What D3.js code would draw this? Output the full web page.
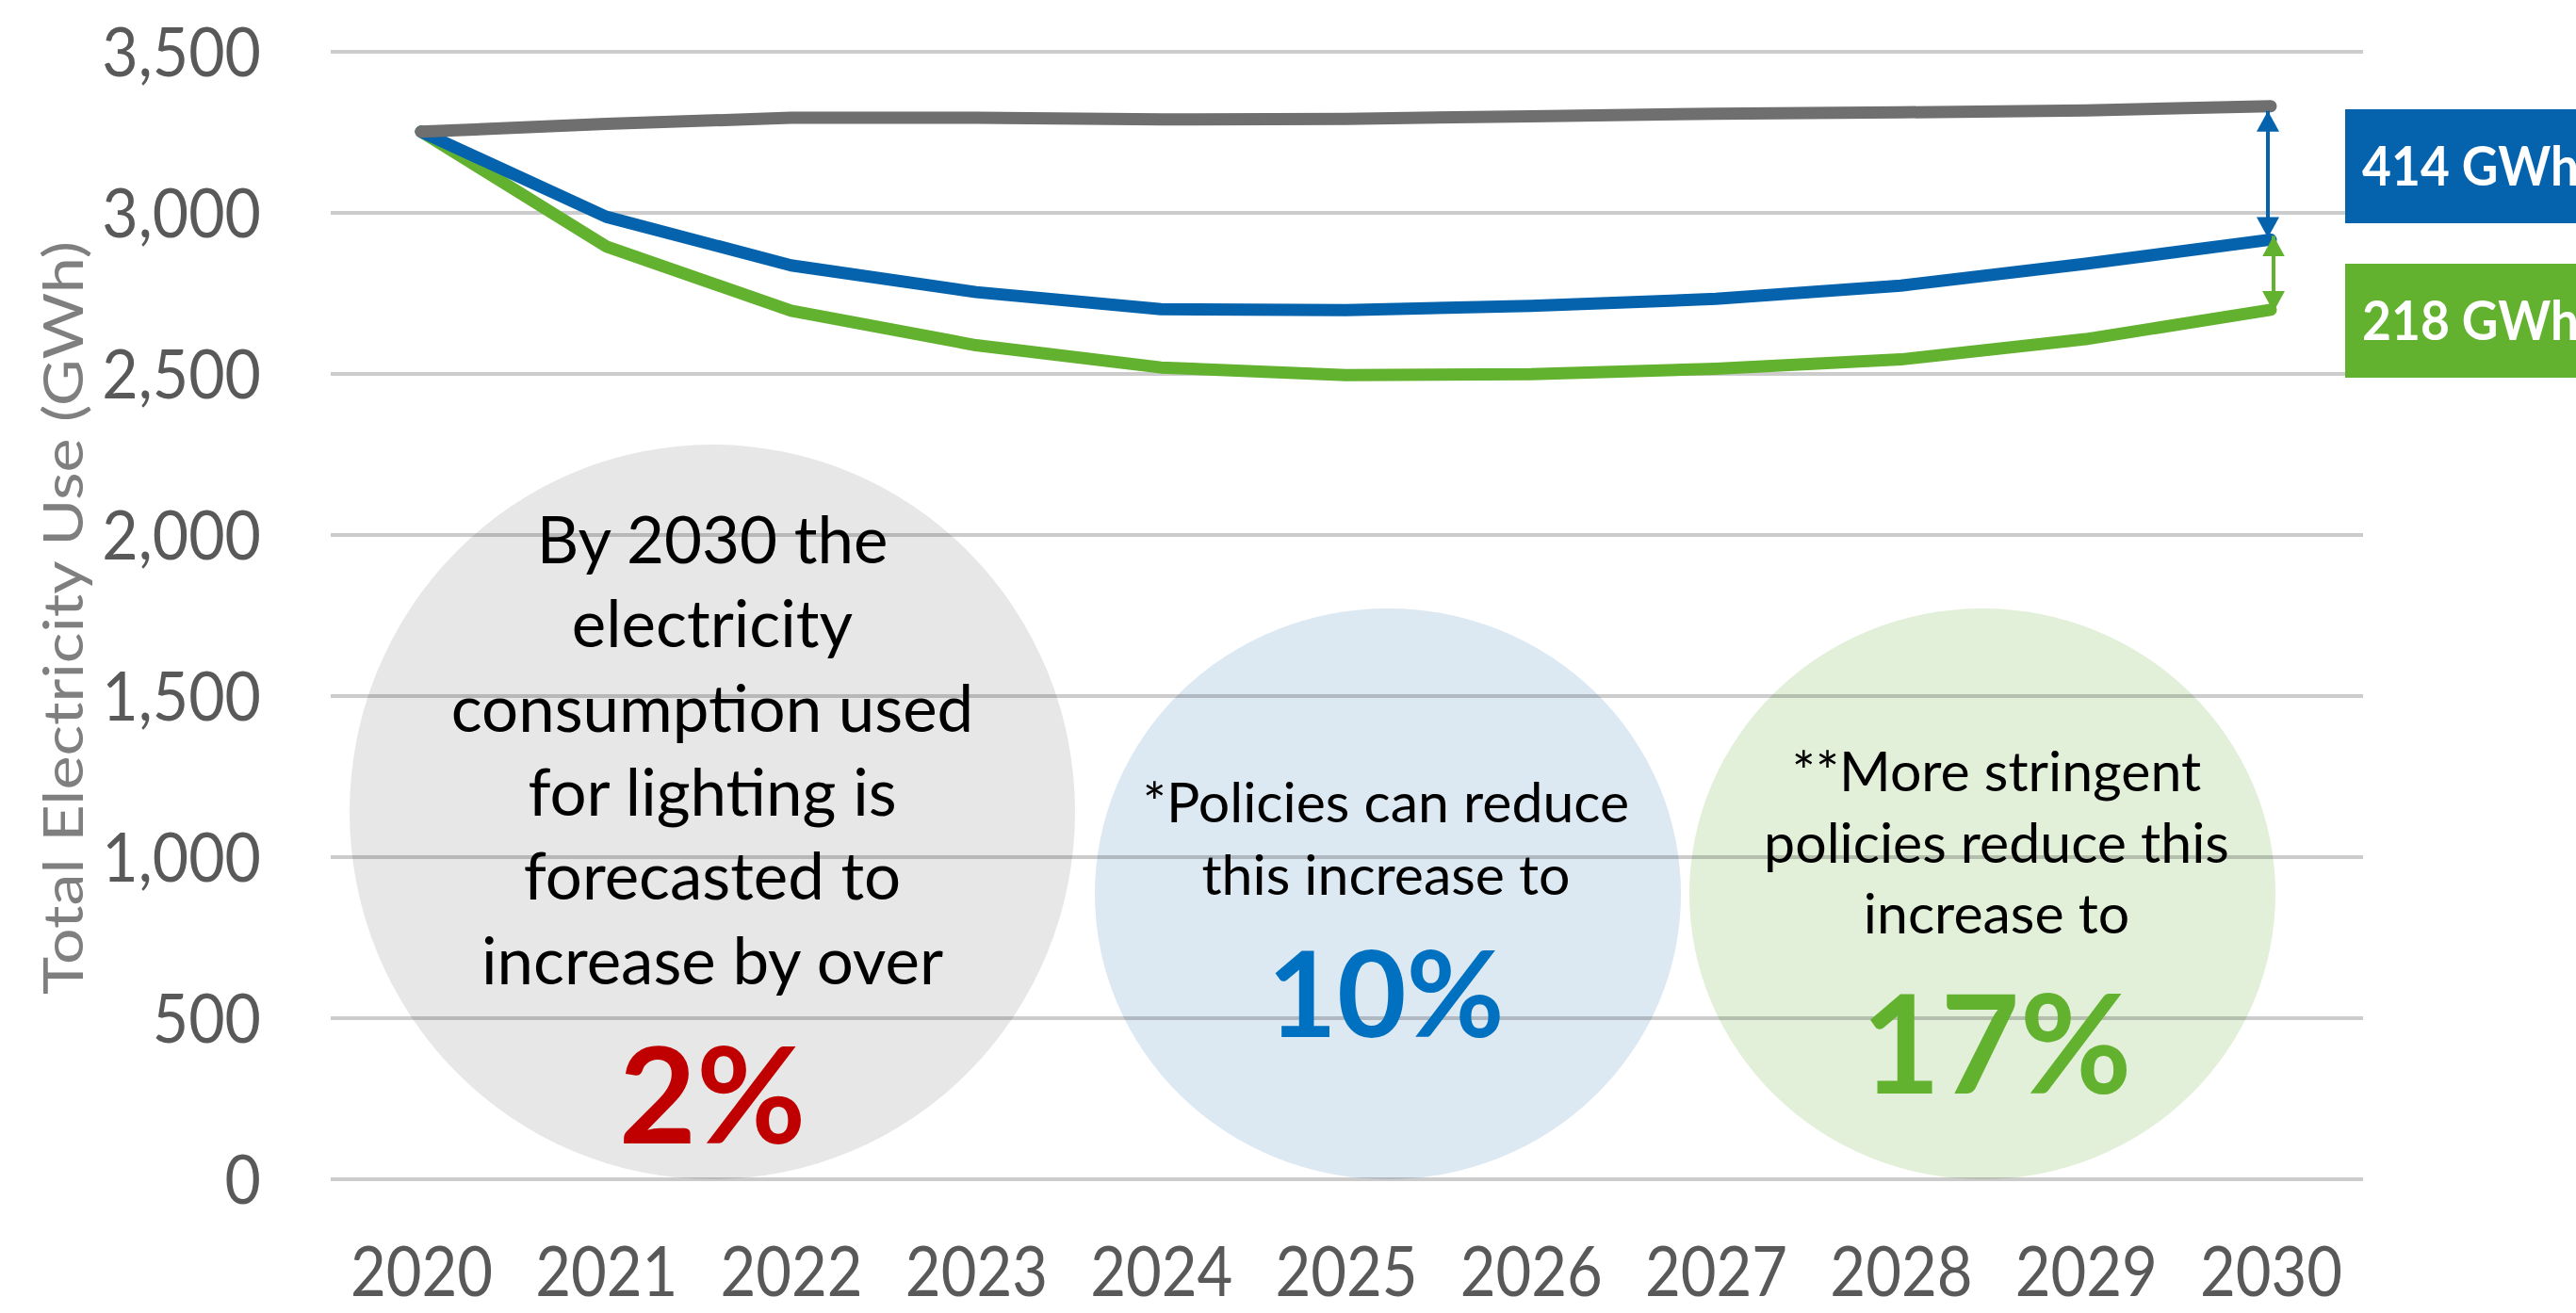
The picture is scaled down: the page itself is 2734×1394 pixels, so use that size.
<!DOCTYPE html>
<html><head><meta charset="utf-8">
<script src="https://cdn.jsdelivr.net/npm/d3@7"></script>
<style>html,body{margin:0;padding:0;background:#fff;overflow:hidden}svg{display:block}</style>
</head><body>
<svg id="chart" width="2734" height="1394"></svg>
<script>
// ---------- data ----------
const years = [2020, 2021, 2022, 2023, 2024, 2025, 2026, 2027, 2028, 2029, 2030];
const baselineUse  = [3252, 3276, 3295, 3295, 3290, 3292, 3300, 3308, 3312, 3318, 3331];
const policyUse    = [3252, 2988, 2837, 2754, 2701, 2698, 2711, 2733, 2774, 2842, 2917];
const stringentUse = [3252, 2896, 2696, 2589, 2520, 2496, 2499, 2516, 2545, 2608, 2699];
const yTickValues = [0, 500, 1000, 1500, 2000, 2500, 3000, 3500];
const yAxisTitle = "Total Electricity Use (GWh)";
const gapLabels = ["414 GWh", "218 GWh"];
const bubbleLines = [
  ["By 2030 the", "electricity", "consumption used", "for lighting is", "forecasted to", "increase by over"],
  ["*Policies can reduce", "this increase to"],
  ["**More stringent", "policies reduce this", "increase to"]
];
const bubbleFigures = ["2%", "10%", "17%"];

// ---------- setup ----------
const FONT = "Lato, 'Open Sans', sans-serif";
const svg = d3.select("#chart");
svg.append("rect").attr("width", 2734).attr("height", 1394).attr("fill", "#fff");

const x = d3.scalePoint().domain(years).range([447, 2410]);
const y = d3.scaleLinear().domain([0, 3500]).range([1252, 55]);

const GRAY = "#6f6f6f", BLUE = "#0563ad", GREEN = "#63b22f";

// ---------- bubbles (background) ----------
const bubbleStyle = [
  {cx: 756, cy: 862, rx: 385, ry: 390, fill: "#e7e7e7", tx: 756, base: 598, lh: 89.3, fs: 69, figBase: 1214, figFs: 142, figColor: "#c00000"},
  {cx: 1473, cy: 949, rx: 311, ry: 303, fill: "#dce8f2", tx: 1471, base: 873, lh: 76.7, fs: 59, figBase: 1101, figFs: 127, figColor: "#0070c0"},
  {cx: 2104, cy: 949, rx: 311, ry: 303, fill: "#e2efd9", tx: 2119, base: 840, lh: 75.6, fs: 59, figBase: 1161, figFs: 145, figColor: "#63b22f"}
];
const gB = svg.append("g");
gB.selectAll("ellipse").data(bubbleStyle).join("ellipse")
  .attr("cx", d => d.cx).attr("cy", d => d.cy).attr("rx", d => d.rx).attr("ry", d => d.ry)
  .attr("fill", d => d.fill);

// ---------- gridlines ----------
svg.append("g").selectAll("line").data(yTickValues).join("line")
  .attr("x1", 351).attr("x2", 2508)
  .attr("y1", d => y(d)).attr("y2", d => y(d))
  .attr("stroke", "rgba(0,0,0,0.2)").attr("stroke-width", 4);

// ---------- bubble texts ----------
bubbleStyle.forEach((s, i) => {
  const g = svg.append("g").attr("font-family", FONT).attr("text-anchor", "middle");
  g.selectAll("text.l").data(bubbleLines[i]).join("text").attr("class", "l")
    .attr("x", s.tx).attr("y", (d, j) => s.base + j * s.lh)
    .attr("font-size", s.fs).attr("fill", "#000").text(d => d);
  g.append("text").attr("x", s.tx).attr("y", s.figBase)
    .attr("font-size", s.figFs).attr("font-weight", 700).attr("fill", s.figColor)
    .text(bubbleFigures[i]);
});

// ---------- axes ----------
const yAxis = svg.append("g").attr("transform", "translate(277,0)")
  .call(d3.axisLeft(y).tickValues(yTickValues).tickFormat(d3.format(",")).tickSize(0).tickPadding(0));
yAxis.select(".domain").remove();
yAxis.selectAll("text").attr("font-family", FONT).attr("font-size", 72).attr("fill", "#595959")
  .attr("dy", "0.36em").attr("transform", "scale(0.92,1)");

const xAxis = svg.append("g").attr("transform", "translate(0,1252)")
  .call(d3.axisBottom(x).tickSize(0).tickPadding(0));
xAxis.select(".domain").remove();
xAxis.selectAll("text").attr("font-family", FONT).attr("font-size", 74).attr("fill", "#595959")
  .attr("y", 97).attr("dy", "0.36em").attr("transform", "scale(0.88,1)");

svg.append("text")
  .attr("transform", "translate(88,656) rotate(-90)")
  .attr("text-anchor", "middle").attr("font-family", FONT).attr("font-size", 58)
  .attr("fill", "#7f7f7f").attr("textLength", 800).attr("lengthAdjust", "spacingAndGlyphs")
  .text(yAxisTitle);

// ---------- lines ----------
const series = [
  {vals: baselineUse, color: GRAY},
  {vals: policyUse, color: BLUE},
  {vals: stringentUse, color: GREEN}
];
const line = d3.line().x((d, i) => x(years[i])).y(d => y(d));
svg.append("g").selectAll("path").data(series.slice().reverse()).join("path")
  .attr("d", d => line(d.vals)).attr("fill", "none")
  .attr("stroke", d => d.color).attr("stroke-width", 13)
  .attr("stroke-linejoin", "round").attr("stroke-linecap", "round");

// ---------- gap arrows ----------
const defs = svg.append("defs");
[["aB", BLUE], ["aG", GREEN]].forEach(([id, c]) => {
  defs.append("marker").attr("id", id).attr("markerUnits", "userSpaceOnUse")
    .attr("viewBox", "0 0 22 24").attr("refX", 22).attr("refY", 12)
    .attr("markerWidth", 22).attr("markerHeight", 24).attr("orient", "auto-start-reverse")
    .append("path").attr("d", "M0,0 L22,12 L0,24 Z").attr("fill", c);
});
const last = years.length - 1;
svg.append("line").attr("x1", 2407).attr("x2", 2407)
  .attr("y1", y(baselineUse[last]) + 5).attr("y2", y(policyUse[last]) - 2)
  .attr("stroke", BLUE).attr("stroke-width", 4)
  .attr("marker-start", "url(#aB)").attr("marker-end", "url(#aB)");
svg.append("line").attr("x1", 2413).attr("x2", 2413)
  .attr("y1", y(policyUse[last]) - 4).attr("y2", y(stringentUse[last]) + 2)
  .attr("stroke", GREEN).attr("stroke-width", 4)
  .attr("marker-start", "url(#aG)").attr("marker-end", "url(#aG)");

// ---------- gap labels ----------
const boxes = [{y0: 116, y1: 237, fill: BLUE}, {y0: 280, y1: 401, fill: GREEN}];
boxes.forEach((b, i) => {
  svg.append("rect").attr("x", 2489).attr("y", b.y0).attr("width", 260).attr("height", b.y1 - b.y0)
    .attr("fill", b.fill);
  svg.append("text").attr("x", 0).attr("y", 0).attr("dy", "0.36em")
    .attr("transform", `translate(2507,${(b.y0 + b.y1) / 2}) scale(0.92,1)`)
    .attr("font-family", FONT).attr("font-weight", 700).attr("font-size", 58).attr("fill", "#fff")
    .text(gapLabels[i]);
});
</script>
</body></html>
